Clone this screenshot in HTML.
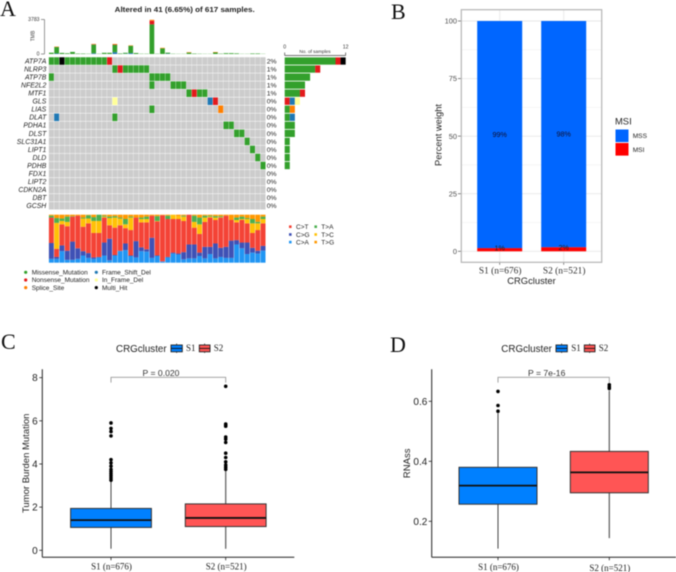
<!DOCTYPE html>
<html lang="en">
<head>
<meta charset="utf-8">
<title>CRG cluster mutation figure</title>
<style>
html,body{margin:0;padding:0;background:#fff;width:676px;height:572px;overflow:hidden}
svg{display:block;filter:blur(0.4px)}
text{font-family:"Liberation Sans",sans-serif}
.serif{font-family:"Liberation Serif",serif}
</style>
</head>
<body>
<svg id="fig" xmlns="http://www.w3.org/2000/svg" width="676" height="572" viewBox="0 0 676 572">
  <rect width="676" height="572" fill="#fff"/>

  <text class="serif" x="0" y="16" font-size="22" fill="#111">A</text>
  <text class="serif" x="391" y="19" font-size="22" fill="#111">B</text>
  <text class="serif" x="1" y="349" font-size="22" fill="#111">C</text>
  <text class="serif" x="390" y="352" font-size="22" fill="#111">D</text>

  <g id="panel-a">
    <text x="114.7" y="12" font-size="7.6" font-weight="bold" fill="#222" textLength="140" lengthAdjust="spacingAndGlyphs">Altered in 41 (6.65%) of 617 samples.</text>
    <text x="0" y="0" transform="translate(34.5,36) rotate(-90)" text-anchor="middle" font-size="5" fill="#444">TMB</text>
    <text x="315" y="53" text-anchor="middle" font-size="4.7" fill="#333">No. of samples</text>
    <g font-size="6.5" fill="#222">
      <circle cx="25.7" cy="272.3" r="1.6" fill="#33a02c"/>
      <text x="31.7" y="274.5">Missense_Mutation</text>
      <circle cx="25.7" cy="280" r="1.6" fill="#e31a1c"/>
      <text x="31.7" y="282.2">Nonsense_Mutation</text>
      <circle cx="25.7" cy="287.6" r="1.6" fill="#ff7f00"/>
      <text x="31.7" y="289.8">Splice_Site</text>
      <circle cx="96.3" cy="272.3" r="1.6" fill="#1f78b4"/>
      <text x="102" y="274.5">Frame_Shift_Del</text>
      <circle cx="96.3" cy="280" r="1.6" fill="#ffff99"/>
      <text x="102" y="282.2">In_Frame_Del</text>
      <circle cx="96.3" cy="287.6" r="1.6" fill="#000"/>
      <text x="102" y="289.8">Multi_Hit</text>
    </g>
    <g font-size="6.5" fill="#222">
      <rect x="289" y="225.4" width="2.6" height="2.6" fill="#f44336"/>
      <text x="296" y="229">C&gt;T</text>
      <rect x="289" y="233.2" width="2.6" height="2.6" fill="#3f51b5"/>
      <text x="296" y="236.8">C&gt;G</text>
      <rect x="289" y="240.8" width="2.6" height="2.6" fill="#2196f3"/>
      <text x="296" y="244.4">C&gt;A</text>
      <rect x="314.4" y="225.4" width="2.6" height="2.6" fill="#4caf50"/>
      <text x="321.3" y="229">T&gt;A</text>
      <rect x="314.4" y="233.2" width="2.6" height="2.6" fill="#ffc107"/>
      <text x="321.3" y="236.8">T&gt;C</text>
      <rect x="314.4" y="240.8" width="2.6" height="2.6" fill="#ff9800"/>
      <text x="321.3" y="244.4">T&gt;G</text>
    </g>
  </g>

  <g id="panel-b">
    <text x="0" y="0" transform="translate(441.5,135) rotate(-90)" text-anchor="middle" font-size="9.4" fill="#222">Percent weight</text>
    <text x="531.5" y="284" text-anchor="middle" font-size="9.4" fill="#222">CRGcluster</text>
    <text x="615" y="124.5" font-size="9.4" fill="#222">MSI</text>
    <rect x="615.5" y="129.5" width="13" height="12.6" fill="#0066ff"/>
    <rect x="615.5" y="143" width="13" height="12.6" fill="#ff0000"/>
    <text x="632.7" y="138" font-size="6.6" fill="#222">MSS</text>
    <text x="632.7" y="151.8" font-size="6.6" fill="#222">MSI</text>
  </g>

  <g id="panel-c">
    <text x="0" y="0" transform="translate(29,463.3) rotate(-90)" text-anchor="middle" font-size="9.5" fill="#222">Tumor Burden Mutation</text>
    <text x="116" y="352.2" font-size="9.8" fill="#222">CRGcluster</text>
    <text class="serif" x="186" y="351" font-size="9" fill="#222">S1</text>
    <text class="serif" x="213.7" y="351" font-size="9" fill="#222">S2</text>
    <text x="161" y="376" text-anchor="middle" font-size="8.6" fill="#333">P = 0.020</text>
  </g>

  <g id="panel-d">
    <text x="0" y="0" transform="translate(410,463.3) rotate(-90)" text-anchor="middle" font-size="9.5" fill="#222">RNAss</text>
    <text x="501.3" y="352.2" font-size="9.8" fill="#222">CRGcluster</text>
    <text class="serif" x="571.3" y="351" font-size="9" fill="#222">S1</text>
    <text class="serif" x="598.7" y="351" font-size="9" fill="#222">S2</text>
    <text x="546.7" y="376" text-anchor="middle" font-size="8.6" fill="#333">P = 7e-16</text>
  </g>
</svg>
<script>
/* ---------- Panel A data ---------- */
const genes = ["ATP7A","NLRP3","ATP7B","NFE2L2","MTF1","GLS","LIAS","DLAT","PDHA1","DLST","SLC31A1","LIPT1","DLD","PDHB","FDX1","LIPT2","CDKN2A","DBT","GCSH"];
const genePercent = ["2%","1%","1%","1%","1%","0%","0%","0%","0%","0%","0%","0%","0%","0%","0%","0%","0%","0%","0%"];
const sampleCount = 41;
const hitSamples = [[0,1,2,3,4,5,6,7,8,9,10,11],[12,13,14,15,16,17,18],[0,19,20,21,22],[19,23,24,25],[26,27,28,29],[12,30,31],[19,32],[1,12],[33,34],[35,36],[37],[38],[39],[40],[],[],[],[],[]];
const hitTypes = ["MMHMMMMMMMMN","MNMMMMM","MMMMM","MMMM","MNMM","IFN","MS","FM","MM","MM","M","M","M","M","","","","",""];
const typeOrder = ["M","N","F","S","I","H"];
const tmbTicks = [0,3783];
const sampleTicks = [0,12];
const tmbBlue = [0,60,0,0,0,0,0,0,80,0,0,0,200,0,30,100,0,0,0,0,0,0,40,0,0,0,0,0,0,0,0,0,0,0,0,0,0,0,0,0,0];
const tmbGreen = [140,700,120,80,230,50,50,30,950,30,130,130,800,60,100,800,110,30,30,3250,30,620,100,30,20,20,150,50,30,20,20,170,40,90,90,70,20,20,60,60,20];
const tmbRed = [0,0,0,0,0,0,0,0,40,0,0,0,40,0,0,0,0,0,0,400,0,0,0,0,0,0,0,0,0,0,0,0,0,0,0,0,0,0,0,0,0];
const tmbOrange = [0,50,0,0,0,0,0,0,40,0,0,0,60,0,0,50,0,0,0,100,0,60,0,0,0,0,50,0,0,0,0,50,0,0,0,0,0,0,0,0,0];
const titvCA = [8,8,24,6,6,8,15,10,8,11,15,5,15,24,26,14,11,24,23,10,14,2,11,19,17,7,9,9,14,9,18,9,12,10,10,38,30,18,21,19,25];
const titvCG = [33,4,12,19,38,22,9,10,3,1,27,45,1,1,14,1,34,8,5,42,1,1,1,2,2,15,29,29,7,24,15,31,19,23,36,9,12,24,10,6,10];
const titvCT = [53,17,44,51,52,68,51,62,51,50,52,28,57,53,32,53,49,52,56,46,71,96,79,70,72,65,62,35,39,52,61,49,63,65,43,37,47,40,31,43,47];
const titvTC = [0,54,7,9,0,0,17,10,25,25,2,15,21,14,8,26,0,7,7,0,1,0,0,9,6,9,0,12,20,9,2,5,1,0,0,5,2,9,20,14,9];
const titvTA = [4,10,5,11,1,0,2,7,8,13,2,3,3,2,11,2,0,3,5,0,10,0,7,0,0,2,0,13,14,4,2,3,2,0,0,5,5,2,9,3,5];
const titvTG = [2,7,8,4,3,2,6,1,5,0,2,4,3,6,9,4,6,6,4,2,3,1,2,0,3,2,0,2,6,2,2,3,3,2,11,6,4,7,9,15,4];

/* ---------- Panel B data ---------- */
const msiClusters = ["S1 (n=676)","S2 (n=521)"];
const msiStable = [98.6,98.2];
const msiInstable = [1.4,1.8];
const msiStableLabels = ["99%","98%"];
const msiInstableLabels = ["1%","2%"];
const msiTicks = [0,25,50,75,100];
const msiMinorTicks = [12.5,37.5,62.5,87.5];

/* ---------- Panel C data ---------- */
const boxClusters = ["S1 (n=676)","S2 (n=521)"];
const tmbAxisTicks = [0,2,4,6,8];
const burdenLow = [0.07,0.07];
const burdenQ1 = [1.06,1.10];
const burdenMedian = [1.40,1.50];
const burdenQ3 = [1.94,2.15];
const burdenHigh = [3.2,3.7];
const burdenOutliersS1 = [5.9,5.65,5.5,5.3,4.2,4.05,3.9,3.75,3.65,3.55,3.45,3.35,3.25];
const burdenOutliersS2 = [7.6,5.85,5.8,5.75,5.25,5.15,5.0,4.5,4.3,4.1,3.95,3.85,3.75];

/* ---------- Panel D data ---------- */
const rnassAxisTicks = [0.2,0.4,0.6];
const rnassAxisLabels = ["0.2","0.4","0.6"];
const rnassLow = [0.109,0.144];
const rnassQ1 = [0.257,0.295];
const rnassMedian = [0.319,0.363];
const rnassQ3 = [0.38,0.433];
const rnassHigh = [0.56,0.635];
const rnassOutliersS1 = [0.633,0.586,0.567];
const rnassOutliersS2 = [0.655,0.648,0.643];

/* ---------- Helpers ---------- */
const NS = "http://www.w3.org/2000/svg";
function make(tag, parent, attrs){
  const e = document.createElementNS(NS, tag);
  for (const k in attrs) e.setAttribute(k, attrs[k]);
  parent.appendChild(e);
  return e;
}
function label(parent, x, y, str, size, fill, anchor, cls){
  const e = make("text", parent, {x:x, y:y, "font-size":size, fill:fill, "text-anchor":anchor||"start"});
  if (cls) e.setAttribute("class", cls);
  e.textContent = str;
  return e;
}
const typeColor = {M:"#33a02c",N:"#e31a1c",F:"#1f78b4",S:"#ff7f00",I:"#ffff99",H:"#000000"};
const panelA = document.getElementById("panel-a");
const panelB = document.getElementById("panel-b");
const panelC = document.getElementById("panel-c");
const panelD = document.getElementById("panel-d");

/* ---------- Panel A axes ---------- */
const sampleW = 217 / sampleCount;
const rowH = 8.04;
const xOnco = i => 48.7 + i * sampleW;
const yOnco = r => 57 + r * rowH;
const yTmb = v => 54 - v / 3783 * 34.5;
const xSamples = n => 284.7 + n * 5.08;
const yTitv = p => 262.7 - p / 100 * 48;

/* oncoplot grid */
genes.forEach((g, r) => {
  const name = label(panelA, 46.3, yOnco(r) + 6.4, g, 6.9, "#222", "end");
  name.setAttribute("font-style", "italic");
  
  
  const pct = label(panelA, 266.7, yOnco(r) + 6.4, genePercent[r], 6.8, "#222");
  
  
  for (let s = 0; s < sampleCount; s++) {
    const idx = hitSamples[r].indexOf(s);
    const fill = idx >= 0 ? typeColor[hitTypes[r][idx]] : "#cccccc";
    const cell = make("rect", panelA, {x:xOnco(s)+0.15, y:yOnco(r)+0.25, width:sampleW-0.3, height:rowH-0.5, fill:fill});
    
    
  }
  let offset = 0;
  typeOrder.forEach(t => {
    const n = hitTypes[r].split(t).length - 1;
    if (n > 0) {
      const bar = make("rect", panelA, {x:xSamples(offset), y:yOnco(r)+0.4, width:xSamples(offset+n)-xSamples(offset), height:rowH-0.8, fill:typeColor[t]});
      
      
      offset += n;
    }
  });
});

/* TMB bars */
const tmbStacks = [[tmbBlue,"#1f78b4"],[tmbGreen,"#33a02c"],[tmbRed,"#e31a1c"],[tmbOrange,"#ff7f00"]];
for (let s = 0; s < sampleCount; s++) {
  let base = 0;
  tmbStacks.forEach(st => {
    const v = st[0][s];
    if (v > 0) {
      const bar = make("rect", panelA, {x:xOnco(s)+0.3, y:yTmb(base+v), width:sampleW-0.6, height:yTmb(base)-yTmb(base+v), fill:st[1]});
      
      
      base += v;
    }
  });
}
const tmbLine = make("line", panelA, {x1:44.5, x2:44.5, y1:yTmb(3783), y2:yTmb(0), stroke:"#555", "stroke-width":0.6});


tmbTicks.forEach(t => {
  const tick = make("line", panelA, {x1:41, x2:44.5, y1:yTmb(t), y2:yTmb(t), stroke:"#555", "stroke-width":0.6});
  
  
  const txt = label(panelA, 39.5, yTmb(t)+1.7, String(t), 5.1, "#333", "end");
  
  
});

/* samples axis */
const sampleLine = make("line", panelA, {x1:xSamples(0), x2:xSamples(12), y1:55.5, y2:55.5, stroke:"#444", "stroke-width":0.7});


sampleTicks.forEach(t => {
  const tick = make("line", panelA, {x1:xSamples(t), x2:xSamples(t), y1:52.5, y2:55.5, stroke:"#444", "stroke-width":0.7});
  
  
  const txt = label(panelA, xSamples(t), 48.5, String(t), 5.2, "#333", "middle");
  
  
});

/* Ti/Tv stacked bars */
const titvStacks = [[titvCA,"#2196f3"],[titvCG,"#3f51b5"],[titvCT,"#f44336"],[titvTC,"#ffc107"],[titvTA,"#4caf50"],[titvTG,"#ff9800"]];
for (let s = 0; s < sampleCount; s++) {
  const total = titvStacks.reduce((a, st) => a + st[0][s], 0);
  let base = 0;
  titvStacks.forEach(st => {
    const v = st[0][s] / total * 100;
    if (v > 0) {
      const seg = make("rect", panelA, {x:xOnco(s)+0.2, y:yTitv(base+v), width:sampleW-0.4, height:yTitv(base)-yTitv(base+v), fill:st[1]});
      
      
      base += v;
    }
  });
}

/* ---------- Panel B ---------- */
const xB = i => 499.7 + i * 64;
const yB = v => 251.3 - v * 2.303;
const bBarW = 45;
const plotTop = 9.7, plotBottom = 262.3, plotLeft = 461.3, plotRight = 601.7;
msiMinorTicks.forEach(t => {
  const g = make("line", panelB, {x1:plotLeft, x2:plotRight, y1:yB(t), y2:yB(t), stroke:"#f0f0f0", "stroke-width":0.6});
  
  
});
msiTicks.forEach(t => {
  const g = make("line", panelB, {x1:plotLeft, x2:plotRight, y1:yB(t), y2:yB(t), stroke:"#e8e8e8", "stroke-width":0.9});
  
  
  const tick = make("line", panelB, {x1:458, x2:plotLeft, y1:yB(t), y2:yB(t), stroke:"#555", "stroke-width":0.7});
  
  
  const txt = label(panelB, 457, yB(t)+2.6, String(t), 7.4, "#4d4d4d", "end");
  
  
});
msiClusters.forEach((c, i) => {
  const vg = make("line", panelB, {x1:xB(i), x2:xB(i), y1:plotTop, y2:plotBottom, stroke:"#e8e8e8", "stroke-width":0.9});
  
  
  const low = make("rect", panelB, {x:xB(i)-bBarW/2, y:yB(msiInstable[i]), width:bBarW, height:yB(0)-yB(msiInstable[i]), fill:"#ff0000"});
  
  
  const up = make("rect", panelB, {x:xB(i)-bBarW/2, y:yB(msiInstable[i]+msiStable[i]), width:bBarW, height:yB(msiInstable[i])-yB(msiInstable[i]+msiStable[i]), fill:"#0066ff"});
  
  
  const a = label(panelB, xB(i), yB(msiInstable[i]+msiStable[i]/2)+2.5, msiStableLabels[i], 7.2, "#101030", "middle");
  
  
  const b = label(panelB, xB(i), yB(msiInstable[i]/2)+1, msiInstableLabels[i], 7.2, "#222", "middle");
  
  
  const xt = make("line", panelB, {x1:xB(i), x2:xB(i), y1:plotBottom, y2:plotBottom+2.5, stroke:"#555", "stroke-width":0.7});
  
  
  const xl = label(panelB, xB(i)+0.5, 273.5, c, 9.4, "#333", "middle", "serif");
  
  
});
const frame = make("rect", panelB, {x:plotLeft, y:plotTop, width:plotRight-plotLeft, height:plotBottom-plotTop, fill:"none", stroke:"#b5b5b5", "stroke-width":1.2});



/* ---------- Panels C and D ---------- */
const boxFill = ["#0080ff","#ff5555"];
const whiskerColor = ["#444444","#666666"];
function drawAxes(panel, xAxisX, xEnd, ticks, tickLabels, yFn, labelRight){
  const yl = make("line", panel, {x1:xAxisX, x2:xAxisX, y1:369.3, y2:557.3, stroke:"#222", "stroke-width":1});
  
  
  const xl = make("line", panel, {x1:xAxisX, x2:xEnd, y1:557.3, y2:557.3, stroke:"#222", "stroke-width":1});
  
  
  ticks.forEach((t, i) => {
    const tk = make("line", panel, {x1:xAxisX-3, x2:xAxisX, y1:yFn(t), y2:yFn(t), stroke:"#222", "stroke-width":0.8});
    
    
    const tx = label(panel, labelRight, yFn(t)+3.5, tickLabels[i], 10, "#222", "end");
    
    
  });
}
function drawBox(panel, i, cx, halfW, yFn, low, q1, med, q3, high, outliers, labelY){
  const w = make("line", panel, {x1:cx, x2:cx, y1:yFn(high), y2:yFn(low), stroke:whiskerColor[i], "stroke-width":i ? 1.3 : 1});
  
  
  const b = make("rect", panel, {x:cx-halfW, y:yFn(q3), width:halfW*2, height:yFn(q1)-yFn(q3), fill:boxFill[i], stroke:"#333", "stroke-width":1});
  
  
  const m = make("line", panel, {x1:cx-halfW, x2:cx+halfW, y1:yFn(med), y2:yFn(med), stroke:"#111", "stroke-width":1.8});
  
  
  outliers.forEach(v => {
    const d = make("circle", panel, {cx:cx, cy:yFn(v), r:1.8, fill:"#000"});
    
    
  });
  const tk = make("line", panel, {x1:cx, x2:cx, y1:557.3, y2:560.3, stroke:"#222", "stroke-width":0.8});
  
  
  const t = label(panel, cx+0.5, labelY, boxClusters[i], 9, "#222", "middle", "serif");
  
  
}
function drawBracket(panel, x1, x2){
  const br = make("polyline", panel, {points:x1+",382.6 "+x1+",377.3 "+x2+",377.3 "+x2+",382.6", fill:"none", stroke:"#999", "stroke-width":0.9});
  
  
}
function drawKey(panel, x, w, fill){
  const wh = make("line", panel, {x1:x+w/2, x2:x+w/2, y1:343.5, y2:353, stroke:"#222", "stroke-width":0.7});
  
  
  const r = make("rect", panel, {x:x, y:345, width:w, height:6.8, fill:fill, stroke:"#222", "stroke-width":0.9});
  
  
  const md = make("line", panel, {x1:x, x2:x+w, y1:348.4, y2:348.4, stroke:"#111", "stroke-width":0.9});
  
  
}

const xC = i => 111 + i * 114.7;
const yC = v => 550.3 - v * 21.58;
drawAxes(panelC, 42.3, 294.3, tmbAxisTicks, tmbAxisTicks.map(String), yC, 37.7);
const burdenOutliers = [burdenOutliersS1, burdenOutliersS2];
boxClusters.forEach((c, i) => {
  drawBox(panelC, i, xC(i), 40.4, yC, burdenLow[i], burdenQ1[i], burdenMedian[i], burdenQ3[i], burdenHigh[i], burdenOutliers[i], 569.5);
});
drawBracket(panelC, xC(0), xC(1));
drawKey(panelC, 171, 11.3, boxFill[0]);
drawKey(panelC, 199.3, 10.7, boxFill[1]);

const xD = i => 498 + i * 111.3;
const yD = v => 521.3 - (v - 0.2) * 300;
drawAxes(panelD, 431.7, 676, rnassAxisTicks, rnassAxisLabels, yD, 427.3);
const rnassOutliers = [rnassOutliersS1, rnassOutliersS2];
boxClusters.forEach((c, i) => {
  drawBox(panelD, i, xD(i), 39, yD, rnassLow[i], rnassQ1[i], rnassMedian[i], rnassQ3[i], rnassHigh[i], rnassOutliers[i], 570 + i);
});
drawBracket(panelD, xD(0), xD(1));
drawKey(panelD, 556, 11.3, boxFill[0]);
drawKey(panelD, 584.3, 10.7, boxFill[1]);
</script>
</body>
</html>
